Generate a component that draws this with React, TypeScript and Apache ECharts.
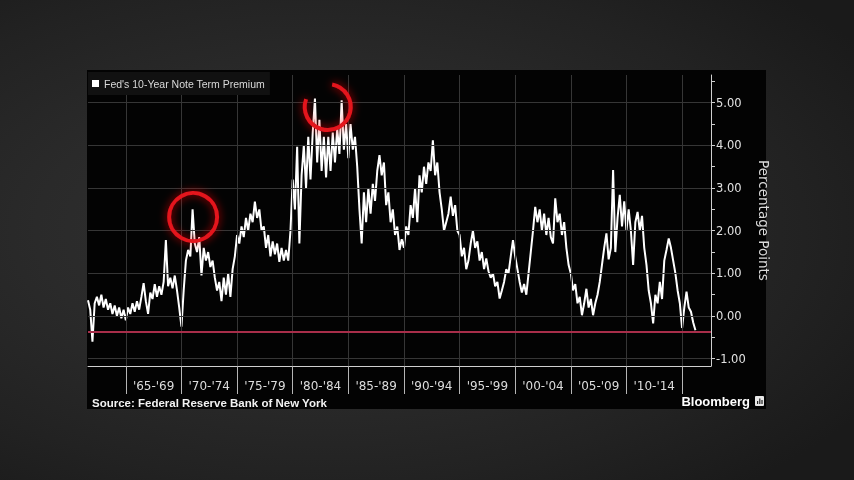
import React, { useEffect, useRef } from "react";
import * as echarts from "echarts";

const seriesName = "Fed's 10-Year Note Term Premium";
const startYear = 1961.6;
const stepYears = 0.2;

// Term premium (percentage points), one reading every 0.2 year from mid-1961
const termPremium: number[] = [
  0.37, 0.15,
  -0.6, 0.3, 0.45, 0.25, 0.5,
  0.2, 0.4, 0.15, 0.3, 0.05,
  0.25, 0.0, 0.2, -0.05, 0.15,
  -0.1, 0.2, 0.05, 0.3, 0.1,
  0.35, 0.15, 0.45, 0.77, 0.35,
  0.05, 0.55, 0.4, 0.75, 0.45,
  0.7, 0.5, 0.8, 1.78, 0.7,
  0.9, 0.65, 0.95, 0.6, 0.2,
  -0.25, 0.6, 1.3, 1.55, 1.4,
  2.5, 1.7, 1.5, 1.85, 0.95,
  1.6, 1.3, 1.5, 1.15, 1.3,
  0.9, 0.6, 0.8, 0.35, 0.9,
  0.5, 1.0, 0.45, 1.1, 1.4,
  1.9, 1.7, 2.1, 1.85, 2.3,
  2.0, 2.4, 2.2, 2.68, 2.3,
  2.5, 2.0, 2.1, 1.6, 1.9,
  1.4, 1.75, 1.45, 1.7, 1.27,
  1.6, 1.3, 1.55, 1.3, 2.0,
  3.2, 2.5, 3.97, 1.7, 3.3,
  4.0, 3.0, 4.2, 3.2, 4.3,
  5.1, 3.6, 4.6, 3.4, 4.2,
  3.25, 4.2, 3.4, 4.3, 3.6,
  4.4, 3.8, 5.06, 3.9, 4.5,
  3.7, 4.5, 3.9, 4.2, 3.5,
  2.5, 1.7, 2.9, 2.2, 3.0,
  2.4, 3.1, 2.7, 3.4, 3.77,
  3.3, 3.6, 2.6, 2.9, 2.2,
  2.5, 1.9, 2.1, 1.55, 1.8,
  1.6, 2.1, 1.9, 2.6, 2.3,
  3.0, 2.2, 3.3, 2.9, 3.5,
  3.1, 3.6, 3.4, 4.12, 3.3,
  3.6, 2.9, 2.5, 2.0, 2.2,
  2.4, 2.8, 2.35, 2.6, 2.0,
  1.9, 1.4, 1.6, 1.1, 1.3,
  1.7, 2.0, 1.6, 1.75, 1.3,
  1.5, 1.1, 1.35, 1.05, 0.9,
  1.0, 0.7, 0.8, 0.41, 0.6,
  0.8, 1.1, 1.0, 1.4, 1.78,
  1.4, 1.1, 0.8, 0.55, 0.75,
  0.5, 1.0, 1.5, 2.0, 2.56,
  2.2, 2.5, 2.0, 2.4, 1.9,
  2.3, 1.85, 1.7, 2.76, 2.2,
  2.4, 1.9, 2.2, 1.6, 1.2,
  1.0, 0.6, 0.75, 0.3, 0.45,
  0.02, 0.3, 0.64, 0.2, 0.4,
  0.02, 0.3, 0.5, 0.8, 1.2,
  1.6, 1.94, 1.33, 1.6, 3.42,
  1.5, 2.3, 2.84, 2.1, 2.69,
  2.0, 2.5, 2.0, 1.2, 2.2,
  2.44, 2.0, 2.35, 1.6, 1.2,
  0.6, 0.3, -0.17, 0.5, 0.3,
  0.8, 0.4, 1.3, 1.55, 1.82,
  1.6, 1.3, 1.0, 0.6, 0.3,
  -0.28, 0.2, 0.57, 0.2, 0.1,
  -0.15, -0.33,
];

const periodBoundaries = [1965, 1970, 1975, 1980, 1985, 1990, 1995, 2000, 2005, 2010, 2015];
const periodCenters = [1967.5, 1972.5, 1977.5, 1982.5, 1987.5, 1992.5, 1997.5, 2002.5, 2007.5, 2012.5];
const periodLabels = ["'65-'69", "'70-'74", "'75-'79", "'80-'84", "'85-'89", "'90-'94", "'95-'99", "'00-'04", "'05-'09", "'10-'14"];
const yLabelValues = [-1, 0, 1, 2, 3, 4, 5];
const yTickValues = [-1, -0.5, 0, 0.5, 1, 1.5, 2, 2.5, 3, 3.5, 4, 4.5, 5, 5.5];
const latestLevel = -0.37;
const highlightPoints: [number, number][] = [[1971.05, 2.32], [1983.15, 4.9]];

export default function App() {
  const ref = useRef<HTMLDivElement>(null);
  useEffect(() => {
    if (!ref.current) return;
    const chart = echarts.init(ref.current, null, { renderer: "svg" });
    const data = termPremium.map((v, i) => [+(startYear + i * stepYears).toFixed(1), v]);
    const gridMarks = [
      ...periodBoundaries.map((x) => ({ xAxis: x })),
      ...yLabelValues.map((y) => ({ yAxis: y })),
    ];
    const staticGraphics: any[] = [
      { type: "rect", id: "panel", z: -100, silent: true, shape: { x: 87, y: 70, width: 679, height: 339 }, style: { fill: "#030303" } },
      {
        type: "text", id: "source", x: 92, y: 403, z: 10, silent: true,
        style: { text: "Source: Federal Reserve Bank of New York", fill: "#f2f2f2", fontSize: 11.5, fontWeight: "bold", fontFamily: "Liberation Sans", textAlign: "left", textVerticalAlign: "middle", align: "left", verticalAlign: "middle" },
      },
      {
        type: "text", id: "brand", x: 750, y: 401, z: 10, silent: true,
        style: { text: "Bloomberg", fill: "#ffffff", fontSize: 13, fontWeight: "bold", fontFamily: "Liberation Sans", textAlign: "right", textVerticalAlign: "middle", align: "right", verticalAlign: "middle" },
      },
      { type: "rect", id: "icon", z: 10, silent: true, shape: { x: 755, y: 396, width: 9, height: 10, r: 1 }, style: { fill: "#e8e8e8" } },
      { type: "rect", id: "bar1", z: 11, silent: true, shape: { x: 757, y: 401, width: 1.2, height: 3 }, style: { fill: "#222" } },
      { type: "rect", id: "bar2", z: 11, silent: true, shape: { x: 759.2, y: 398.5, width: 1.2, height: 5.5 }, style: { fill: "#222" } },
      { type: "rect", id: "bar3", z: 11, silent: true, shape: { x: 761.4, y: 400, width: 1.2, height: 4 }, style: { fill: "#222" } },
    ];

    chart.setOption({
      animation: false,
      backgroundColor: "transparent",
      textStyle: { fontFamily: "DejaVu Sans" },
      grid: { left: 88, right: 143, top: 75, bottom: 114, containLabel: false, outerBoundsMode: "none" },
      legend: {
        show: true,
        z: 20,
        left: 88,
        top: 72,
        selectedMode: false,
        data: [{ name: seriesName, icon: "rect" }],
        itemWidth: 7,
        itemHeight: 7,
        backgroundColor: "#111111",
        padding: [6, 5, 6, 4],
        textStyle: { color: "#d9d9d9", fontSize: 10.5, fontFamily: "Liberation Sans" },
      },
      xAxis: {
        type: "value",
        min: 1961.6,
        max: 2017.6,
        splitLine: { show: false },
        axisLine: { show: true, onZero: false, lineStyle: { color: "#cfcfcf", width: 1 } },
        axisTick: { show: true, length: 28, customValues: periodBoundaries, lineStyle: { color: "#b5b5b5" } },
        axisLabel: {
          customValues: periodCenters,
          formatter: (v: number) => periodLabels[periodCenters.indexOf(v)] ?? "",
          color: "#dcdcdc",
          fontSize: 12,
          fontFamily: "DejaVu Sans",
          margin: 14,
        },
      },
      yAxis: {
        type: "value",
        position: "right",
        min: -1.17,
        max: 5.65,
        splitLine: { show: false },
        axisLine: { show: true, onZero: false, lineStyle: { color: "#cfcfcf", width: 1 } },
        axisTick: { show: true, inside: false, length: 4, customValues: yTickValues, lineStyle: { color: "#cfcfcf" } },
        axisLabel: {
          customValues: yLabelValues,
          formatter: (v: number) => v.toFixed(2),
          color: "#e2e2e2",
          fontSize: 11.5,
          fontFamily: "DejaVu Sans",
          margin: 5,
        },
        name: "Percentage Points",
        nameLocation: "middle",
        nameRotate: -90,
        nameGap: 37,
        nameTextStyle: { color: "#dadada", fontSize: 13.5, fontFamily: "DejaVu Sans" },
      },
      series: [
        {
          type: "line",
          name: "gridlines",
          data: [],
          z: 1,
          silent: true,
          markLine: {
            silent: true,
            symbol: ["none", "none"],
            label: { show: false },
            lineStyle: { color: "#363636", width: 1, type: "solid" },
            data: gridMarks,
          },
        },
        {
          type: "line",
          name: seriesName,
          data,
          z: 3,
          showSymbol: false,
          symbol: "none",
          itemStyle: { color: "#ffffff" },
          lineStyle: { color: "#ffffff", width: 2 },
          markLine: {
            silent: true,
            symbol: ["none", "none"],
            label: { show: false },
            lineStyle: { color: "#a82e4a", width: 2, type: "solid" },
            data: [{ yAxis: latestLevel }],
          },
        },
      ],
      graphic: staticGraphics,
    });

    const p1 = chart.convertToPixel({ xAxisIndex: 0, yAxisIndex: 0 }, highlightPoints[0]) as number[];
    const p2 = chart.convertToPixel({ xAxisIndex: 0, yAxisIndex: 0 }, highlightPoints[1]) as number[];
    const ringStyle = { stroke: "#e3121c", lineWidth: 4, fill: "none", shadowBlur: 8, shadowColor: "rgba(255,20,20,0.75)" };
    chart.setOption({
      graphic: [
        ...staticGraphics,
        { type: "circle", id: "ring1", z: 50, silent: true, shape: { cx: p1[0], cy: p1[1], r: 24 }, style: ringStyle },
        {
          type: "arc", id: "ring2", z: 50, silent: true,
          shape: { cx: p2[0], cy: p2[1], r: 23, startAngle: (-79 * Math.PI) / 180, endAngle: (200 * Math.PI) / 180, clockwise: true },
          style: ringStyle,
        },
      ],
    });

    return () => chart.dispose();
  }, []);

  return (
    <div
      ref={ref}
      style={{
        position: "fixed",
        left: 0,
        top: 0,
        width: 854,
        height: 480,
        background: "radial-gradient(ellipse 75% 70% at 38% 48%, #333333 0%, #2a2a2a 45%, #222222 75%, #1a1a1a 100%)",
      }}
    />
  );
}
